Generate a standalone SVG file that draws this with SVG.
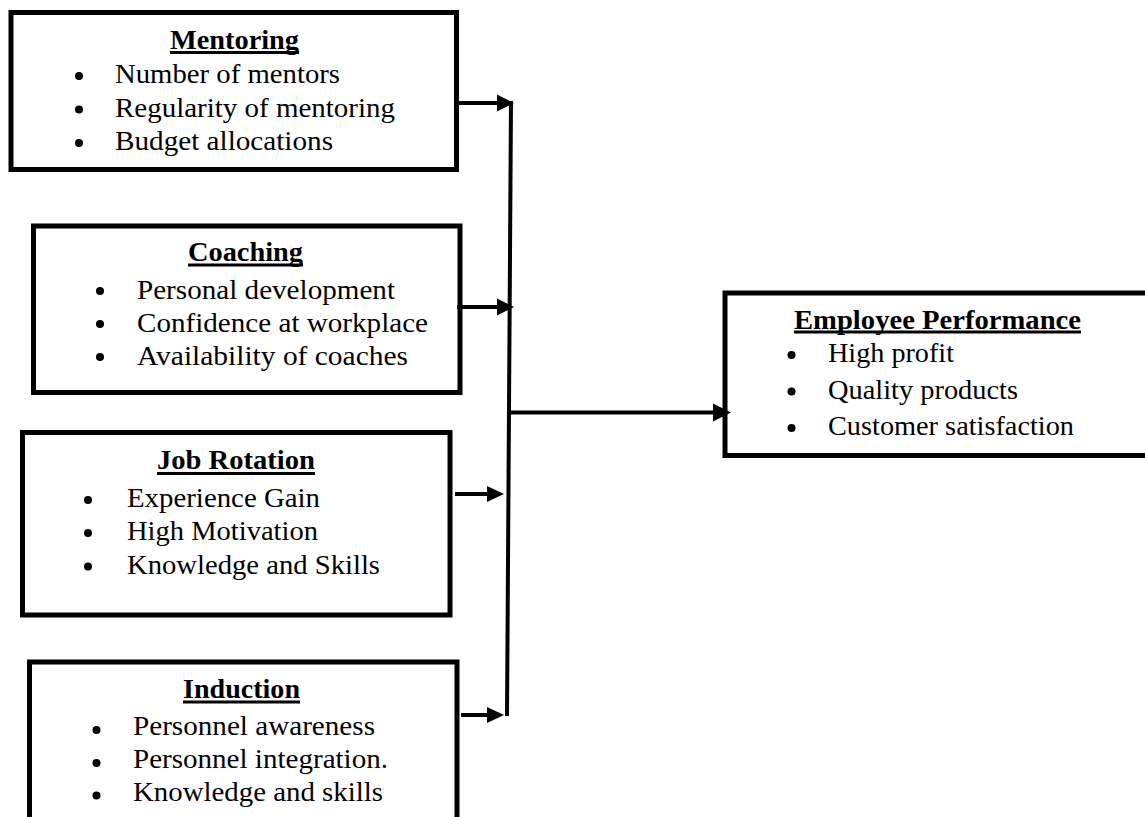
<svg xmlns="http://www.w3.org/2000/svg" width="1145" height="817" viewBox="0 0 1145 817">
<style>
.box{fill:#fff;stroke:#000;stroke-width:5}
.t{font-family:"Liberation Serif","Times New Roman",serif;font-size:27.5px;fill:#000}
.h{font-family:"Liberation Serif","Times New Roman",serif;font-size:28px;font-weight:bold;fill:#000;text-anchor:middle}
.ul{stroke:#000;stroke-width:3}
.b{fill:#000}
.c{stroke:#000;stroke-width:4;fill:none}
.ah{fill:#000}
</style>
<rect width="1145" height="817" fill="#fff"/>
<g id="mentoring">
<rect class="box" x="11" y="12.5" width="445.5" height="157"/>
<text class="h" x="234.5" y="49" textLength="129" lengthAdjust="spacingAndGlyphs">Mentoring</text>
<line class="ul" x1="170" y1="52.5" x2="299" y2="52.5"/>
<circle class="b" cx="79" cy="76" r="4"/><text class="t" x="115" y="83" textLength="225" lengthAdjust="spacingAndGlyphs">Number of mentors</text>
<circle class="b" cx="79" cy="109.5" r="4"/><text class="t" x="115" y="117" textLength="280" lengthAdjust="spacingAndGlyphs">Regularity of mentoring</text>
<circle class="b" cx="79" cy="143" r="4"/><text class="t" x="115" y="150" textLength="218" lengthAdjust="spacingAndGlyphs">Budget allocations</text>
</g>
<g id="coaching">
<rect class="box" x="33.5" y="226" width="426.5" height="166.5"/>
<text class="h" x="245.5" y="261" textLength="115" lengthAdjust="spacingAndGlyphs">Coaching</text>
<line class="ul" x1="188" y1="265" x2="303" y2="265"/>
<circle class="b" cx="100" cy="291" r="4"/><text class="t" x="137" y="299" textLength="258" lengthAdjust="spacingAndGlyphs">Personal development</text>
<circle class="b" cx="100" cy="324" r="4"/><text class="t" x="137" y="332" textLength="291" lengthAdjust="spacingAndGlyphs">Confidence at workplace</text>
<circle class="b" cx="100" cy="357" r="4"/><text class="t" x="137" y="365" textLength="271" lengthAdjust="spacingAndGlyphs">Availability of coaches</text>
</g>
<g id="job-rotation">
<rect class="box" x="22.5" y="432.5" width="427.5" height="182.5"/>
<text class="h" x="236" y="468.5" textLength="158" lengthAdjust="spacingAndGlyphs">Job Rotation</text>
<line class="ul" x1="157" y1="473.5" x2="315" y2="473.5"/>
<circle class="b" cx="88" cy="500" r="4"/><text class="t" x="127" y="507" textLength="193" lengthAdjust="spacingAndGlyphs">Experience Gain</text>
<circle class="b" cx="88" cy="533" r="4"/><text class="t" x="127" y="540" textLength="191" lengthAdjust="spacingAndGlyphs">High Motivation</text>
<circle class="b" cx="88" cy="566.5" r="4"/><text class="t" x="127" y="574" textLength="253" lengthAdjust="spacingAndGlyphs">Knowledge and Skills</text>
</g>
<g id="induction">
<rect class="box" x="29.5" y="662" width="427.5" height="180"/>
<text class="h" x="241.5" y="697.5" textLength="117" lengthAdjust="spacingAndGlyphs">Induction</text>
<line class="ul" x1="183" y1="702" x2="300" y2="702"/>
<circle class="b" cx="96.5" cy="730" r="4"/><text class="t" x="133" y="735" textLength="242" lengthAdjust="spacingAndGlyphs">Personnel awareness</text>
<circle class="b" cx="96.5" cy="763" r="4"/><text class="t" x="133" y="768" textLength="255" lengthAdjust="spacingAndGlyphs">Personnel integration.</text>
<circle class="b" cx="96.5" cy="795.5" r="4"/><text class="t" x="133" y="801" textLength="250" lengthAdjust="spacingAndGlyphs">Knowledge and skills</text>
</g>
<g id="employee-performance">
<rect class="box" x="725" y="293" width="430" height="162.5"/>
<text class="h" x="937.5" y="328.5" textLength="287" lengthAdjust="spacingAndGlyphs">Employee Performance</text>
<line class="ul" x1="794" y1="332" x2="1081" y2="332"/>
<circle class="b" cx="791.5" cy="355" r="4"/><text class="t" x="828" y="362" textLength="126" lengthAdjust="spacingAndGlyphs">High profit</text>
<circle class="b" cx="791.5" cy="391.5" r="4"/><text class="t" x="828" y="398.5" textLength="190" lengthAdjust="spacingAndGlyphs">Quality products</text>
<circle class="b" cx="791.5" cy="428" r="4"/><text class="t" x="828" y="435" textLength="246" lengthAdjust="spacingAndGlyphs">Customer satisfaction</text>
</g>
<g id="connectors">
<line class="c" x1="511" y1="101" x2="507" y2="716"/>
<line class="c" x1="458" y1="103" x2="500" y2="103"/>
<polygon class="ah" points="514,103 497,94.5 497,111.5"/>
<line class="c" x1="457" y1="307" x2="499" y2="307"/>
<polygon class="ah" points="514,307 497,298.5 497,315.5"/>
<line class="c" x1="455" y1="494" x2="490" y2="494"/>
<polygon class="ah" points="504,494 487,486 487,502"/>
<line class="c" x1="461" y1="715" x2="490" y2="715"/>
<polygon class="ah" points="504,715 487,707 487,723"/>
<line class="c" x1="509" y1="412.5" x2="716" y2="412.5"/>
<polygon class="ah" points="731,412.5 713,403.5 713,421.5"/>
</g>
</svg>
